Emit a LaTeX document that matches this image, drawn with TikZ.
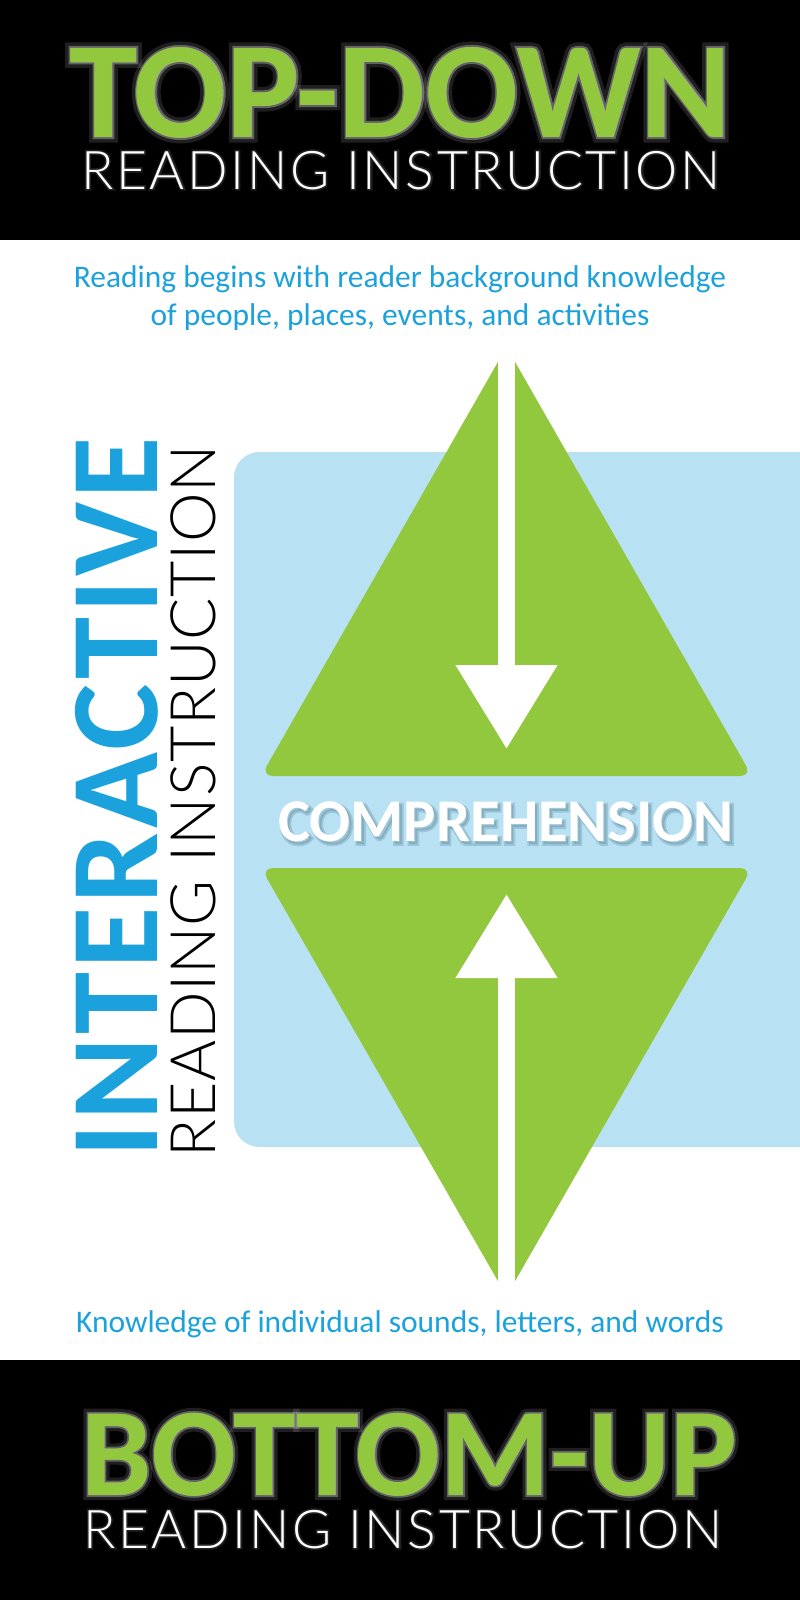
\documentclass[tikz,border=0pt]{standalone}
\usepackage{fontspec}
\setmainfont{Carlito}
\newfontfamily\thinface{Lato}[UprightFont={* Light}]
\usetikzlibrary{arrows.meta}
\definecolor{leafgreen}{RGB}{146,200,62}
\definecolor{skyblue}{RGB}{27,161,220}
\definecolor{paleblue}{RGB}{184,226,243}
\definecolor{deepteal}{RGB}{30,70,90}
\tikzset{
  band/.style={fill=black},
  wedge/.style={fill=leafgreen, rounded corners=9pt},
  shaft/.style={draw=white, line width=12.75pt, -{Triangle[length=63pt, width=73pt]}},
  headline/.style={anchor=base, inner sep=0pt, text=leafgreen},
  subline/.style={anchor=base, inner sep=0pt, text=white, font=\thinface\fontsize{40}{40}\selectfont\addfontfeature{LetterSpace=5}},
  halo/.style={text=white, text opacity=0.12},
  innerhalo/.style={text=white, text opacity=0.3},
  bluenote/.style={anchor=base, inner sep=0pt, text=skyblue, align=center, font=\fontsize{23.6}{28.5}\selectfont}
}
\begin{document}
\begin{tikzpicture}[x=0.75pt,y=0.75pt,yscale=-1,xscale=1]
\useasboundingbox (0,0) rectangle (800,1600);
\clip (0,0) rectangle (800,1600);

%Shape: black bands
\fill[band] (0,0) rectangle (800,240);
\fill[band] (0,1360) rectangle (800,1600);
%Shape: pale panel
\fill[paleblue, rounded corners=19pt] (234,452) rectangle (840,1147);
%Shape: upper and lower wedges
\fill[wedge] (506.5,347) -- (752,776) -- (261,776) -- cycle;
\fill[wedge] (506.5,1296) -- (752,868) -- (261,868) -- cycle;

%Arrows
\coordinate (topstart) at (506.5,330);
\coordinate (toptip) at (506.5,749);
\coordinate (botstart) at (506.5,1315);
\coordinate (bottip) at (506.5,894);
\draw[shaft] (topstart) -- (toptip);
\draw[shaft] (botstart) -- (bottip);

% Text Node: glow behind titles
\node[headline, halo, font=\bfseries\fontsize{103}{103}\selectfont\addfontfeature{FakeBold=8}] at (400.5,137) {TOP-DOWN};
\node[headline, innerhalo, font=\bfseries\fontsize{103}{103}\selectfont\addfontfeature{FakeBold=3}] at (400.5,137) {TOP-DOWN};
\node[headline, halo, font=\bfseries\fontsize{94}{94}\selectfont\addfontfeature{FakeBold=8}] at (409,1495) {BOTTOM-UP};
\node[headline, innerhalo, font=\bfseries\fontsize{94}{94}\selectfont\addfontfeature{FakeBold=3}] at (409,1495) {BOTTOM-UP};
\node[subline, halo, font=\thinface\fontsize{40}{40}\selectfont\addfontfeature{LetterSpace=5,FakeBold=6}] at (401,189) {READING INSTRUCTION};
\node[subline, halo, font=\thinface\fontsize{40}{40}\selectfont\addfontfeature{LetterSpace=5,FakeBold=6}] at (403,1548) {READING INSTRUCTION};
% Text Node: titles
\node[headline, font=\bfseries\fontsize{103}{103}\selectfont] (topdown) at (400.5,137) {TOP-DOWN};
\node[subline] (topsub) at (401,189) {READING INSTRUCTION};
\node[headline, font=\bfseries\fontsize{94}{94}\selectfont] (bottomup) at (409,1495) {BOTTOM-UP};
\node[subline] (botsub) at (403,1548) {READING INSTRUCTION};

% Text Node: notes
\node[bluenote] (topnote) at (400,325) {Reading begins with reader background knowledge\\of people, places, events, and activities};
\node[bluenote] (botnote) at (400,1332) {Knowledge of individual sounds, letters, and words};

% Text Node: centre word
\node[anchor=base, inner sep=0pt, text=deepteal, text opacity=0.18, font=\bfseries\fontsize{45.5}{46}\selectfont\addfontfeature{FakeBold=6}] at (508,844) {COMPREHENSION};
\node[anchor=base, inner sep=0pt, text=white, font=\bfseries\fontsize{45.5}{46}\selectfont] (compre) at (506,841) {COMPREHENSION};

% Text Node: side titles
\node[rotate=90, anchor=base west, inner sep=0pt, text=skyblue, font=\bfseries\fontsize{94}{94}\selectfont\addfontfeature{LetterSpace=3.1}] (inter) at (157,1158) {INTERACTIVE};
\node[rotate=90, anchor=base west, inner sep=0pt, text=black, font=\thinface\fontsize{47}{47}\selectfont\addfontfeature{LetterSpace=1.3}] (sidesub) at (215,1158) {READING INSTRUCTION};

\end{tikzpicture}
\end{document}
